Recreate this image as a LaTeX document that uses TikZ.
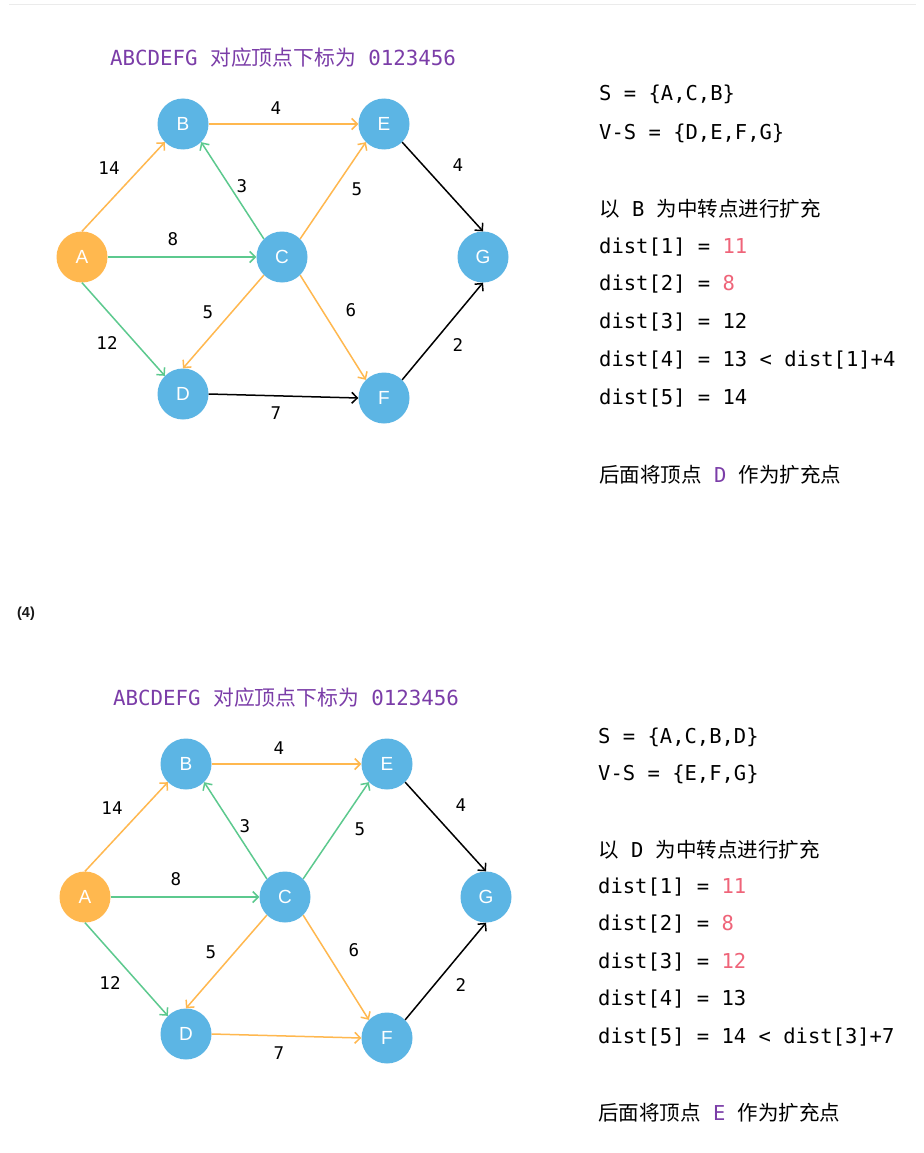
\documentclass[tikz,border=0pt]{standalone}
\usepackage{fontspec}
\setmainfont{DejaVu Sans Mono}
\newfontfamily\cjk{Noto Sans CJK SC}
\newfontfamily\letterfont{Liberation Sans}
\usetikzlibrary{arrows.meta,positioning}

\definecolor{vblue}{HTML}{5CB5E4}
\definecolor{vorange}{HTML}{FFB84F}
\definecolor{egreen}{HTML}{5CC98E}
\definecolor{ered}{HTML}{EF6479}
\definecolor{tpurple}{HTML}{7B3DA8}

\tikzset{
    vertex/.style={
        circle,                   % vértice redondo
        fill=#1,                  % relleno plano, sin borde
        minimum size=51pt,
        inner sep=0pt,
        text=white,
        font=\letterfont\fontsize{19}{20}\selectfont
    },
    edge/.style={
        draw=#1,
        line width=1.5pt,
        -{Straight Barb[length=5.5pt,width=11pt]}
    },
    weight/.style={
        inner sep=0pt,
        font=\fontsize{17.5}{18}\selectfont
    },
    textline/.style={
        anchor=west,
        inner sep=0pt,
        font=\fontsize{20.5}{24}\selectfont
    }
}

% grafo de un paso: #1 prefijo, #2 color de C->E, #3 color de D->F
\newcommand{\drawgraph}[3]{
    \node[vertex=vorange] (#1A) at (82,257) {A};
    \node[vertex=vblue] (#1B) at (183,124) {B};
    \node[vertex=vblue] (#1C) at (282,257) {C};
    \node[vertex=vblue] (#1D) at (183,394) {D};
    \node[vertex=vblue] (#1E) at (384,124) {E};
    \node[vertex=vblue] (#1F) at (384,398) {F};
    \node[vertex=vblue] (#1G) at (483,257) {G};

    \draw[edge=vorange] (#1A.north) -- (#1B.south west);
    \draw[edge=egreen] (#1A.east) -- (#1C.west);
    \draw[edge=egreen] (#1A.south) -- (#1D.north west);
    \draw[edge=egreen] (#1C.north west) -- (#1B.south east);
    \draw[edge=vorange] (#1B.east) -- (#1E.west);
    \draw[edge=#2] (#1C.north east) -- (#1E.south west);
    \draw[edge=vorange] (#1C.south west) -- (#1D.north);
    \draw[edge=vorange] (#1C.south east) -- (#1F.north west);
    \draw[edge=#3] (#1D.east) -- (#1F.west);
    \draw[edge=black] (#1E.south east) -- (#1G.north);
    \draw[edge=black] (#1F.north east) -- (#1G.south);

    \node[weight] (#1wAB) at (109,168) {14};
    \node[weight] (#1wAC) at (173,239) {8};
    \node[weight] (#1wAD) at (107,343) {12};
    \node[weight] (#1wCB) at (242,186) {3};
    \node[weight] (#1wBE) at (276,108) {4};
    \node[weight] (#1wCE) at (357,189) {5};
    \node[weight] (#1wCD) at (208,312) {5};
    \node[weight] (#1wCF) at (351,310) {6};
    \node[weight] (#1wDF) at (276,413) {7};
    \node[weight] (#1wEG) at (458,165) {4};
    \node[weight] (#1wFG) at (458,345) {2};

    \node[font=\fontsize{20.8}{24}\selectfont, text=tpurple] (#1title) at (283,58)
        {ABCDEFG {\cjk 对应顶点下标为} 0123456};
}

\begin{document}
\begin{tikzpicture}[x=1pt,y=-1pt]
    \fill[white] (0,0) rectangle (923,1153);
    \useasboundingbox (0,0) rectangle (923,1153);
    \draw[black!8, line width=1pt] (9,5) -- (916,5);

    % paso (3)
    \begin{scope}
        \drawgraph{p}{vorange}{black}
    \end{scope}
    \node[textline] (s1) at (599,94) {S = \{A,C,B\}};
    \node[textline] (v1) at (599,133) {V-S = \{D,E,F,G\}};
    \node[textline] (m1) at (599,209) {{\cjk 以} B {\cjk 为中转点进行扩充}};
    \node[textline] (d11) at (599,247) {dist[1] = {\color{ered}11}};
    \node[textline] (d12) at (599,284) {dist[2] = {\color{ered}8}};
    \node[textline] (d13) at (599,322) {dist[3] = 12};
    \node[textline] (d14) at (599,360) {dist[4] = 13 < dist[1]+4};
    \node[textline] (d15) at (599,398) {dist[5] = 14};
    \node[textline] (n1) at (599,475) {{\cjk 后面将顶点} {\color{tpurple}D} {\cjk 作为扩充点}};

    \node[font=\letterfont\bfseries\fontsize{14.5}{16}\selectfont, text=black!90] (step4) at (26,614) {(4)};

    % paso (4)
    \begin{scope}[shift={(3,640)}]
        \drawgraph{q}{egreen}{vorange}
    \end{scope}
    \node[textline] (s2) at (598,737) {S = \{A,C,B,D\}};
    \node[textline] (v2) at (598,774) {V-S = \{E,F,G\}};
    \node[textline] (m2) at (598,850) {{\cjk 以} D {\cjk 为中转点进行扩充}};
    \node[textline] (d21) at (598,887) {dist[1] = {\color{ered}11}};
    \node[textline] (d22) at (598,924) {dist[2] = {\color{ered}8}};
    \node[textline] (d23) at (598,962) {dist[3] = {\color{ered}12}};
    \node[textline] (d24) at (598,999) {dist[4] = 13};
    \node[textline] (d25) at (598,1037) {dist[5] = 14 < dist[3]+7};
    \node[textline] (n2) at (598,1113) {{\cjk 后面将顶点} {\color{tpurple}E} {\cjk 作为扩充点}};
\end{tikzpicture}
\end{document}
